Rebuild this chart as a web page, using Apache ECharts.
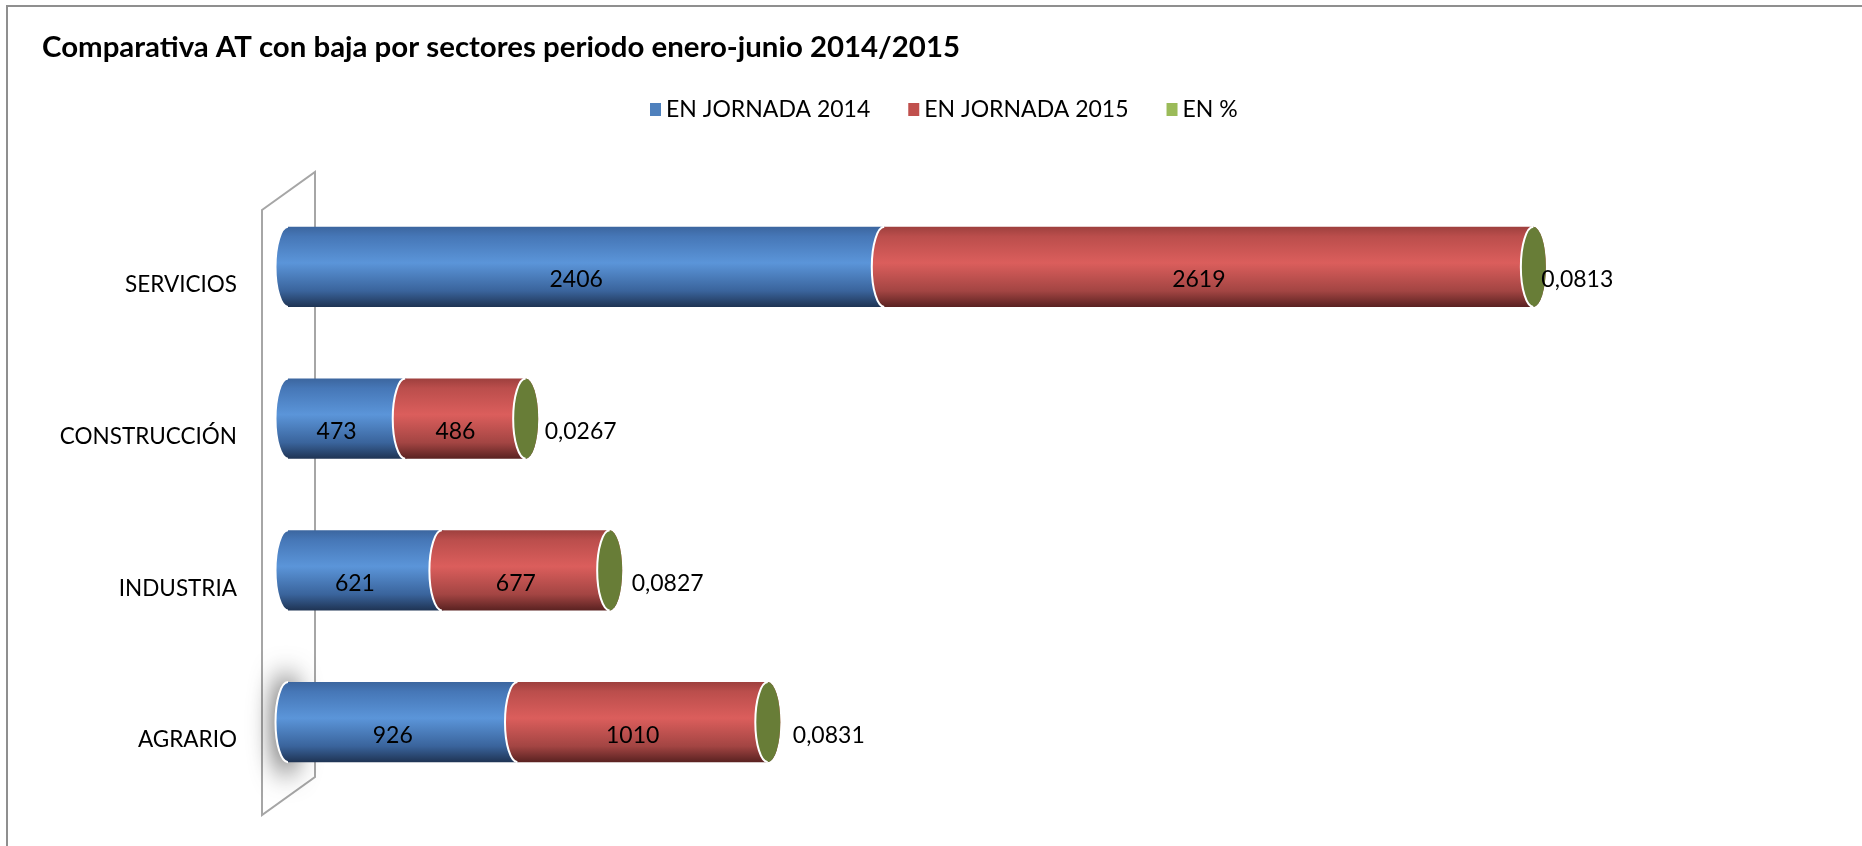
<!DOCTYPE html>
<html><head><meta charset="utf-8">
<script src="https://cdn.jsdelivr.net/npm/echarts@6/dist/echarts.min.js"></script>
<style>html,body{margin:0;padding:0;background:#fff}#c{width:1862px;height:846px}</style>
</head><body><div id="c"></div>
<script>
// ---- data ----
const categories = ['SERVICIOS', 'CONSTRUCCIÓN', 'INDUSTRIA', 'AGRARIO'];
const seriesNames = ['EN JORNADA 2014', 'EN JORNADA 2015', 'EN %'];
const jornada2014 = [2406, 473, 621, 926];
const jornada2015 = [2619, 486, 677, 1010];
const enPct = [0.0813, 0.0267, 0.0827, 0.0831];
const titleText = 'Comparativa AT con baja por sectores periodo enero-junio 2014/2015';
const xMax = 6000;

// ---- style / layout ----
const FONT = 'Lato';
const W = 1862, H = 846;
const GRID = { left: 288, right: 87, top: 191, bottom: 48 };
const LABEL_SHIFT = 18;
const BAR_RATIO = 80 / 151.7;
const RX = 12.5;
const LABEL_DY = 13;
const INNER_DX = -10;
const PCT_DX = [8, 19, 22, 25];
const FS = 23;
const CAT_FS = 22.5;

function fmt(v) { return String(v).replace('.', ','); }
const stacks = [jornada2014, jornada2015, enPct];
function segData(k) {
  return categories.map((c, i) => {
    let start = 0;
    for (let j = 0; j < k; j++) start += stacks[j][i];
    return [i, start, start + stacks[k][i], stacks[k][i]];
  });
}
function grad(stops) {
  return { type: 'linear', x: 0, y: 0, x2: 0, y2: 1, global: false,
    colorStops: stops.map(s => ({ offset: s[0], color: s[1] })) };
}
const blueFill = grad([[0, '#3c669f'], [0.12, '#4677b7'], [0.45, '#5b95d9'], [0.8, '#3a649c'], [1, '#1f3454']]);
const redFill = grad([[0, '#9e403e'], [0.12, '#bb4e4c'], [0.45, '#db5e5c'], [0.8, '#a34543'], [1, '#5a2221']]);
const capColor = '#687d37';

function bodyRenderer(fill) {
  return function (params, api) {
    const ci = api.value(0), a = api.value(1), b = api.value(2);
    const p0 = api.coord([a, ci]), p1 = api.coord([b, ci]);
    const ry = api.size([0, 1])[1] * BAR_RATIO / 2;
    const x0 = p0[0], x1 = p1[0], yc = p0[1], yt = yc - ry, yb = yc + ry;
    const d = `M${x0} ${yt} L${x1} ${yt} A${RX} ${ry} 0 0 1 ${x1} ${yb} L${x0} ${yb} A${RX} ${ry} 0 0 1 ${x0} ${yt} Z`;
    const edge = `M${x0} ${yb} A${RX} ${ry} 0 0 1 ${x0} ${yt}`;
    return { type: 'group', children: [
      { type: 'path', shape: { pathData: d }, style: { fill: fill } },
      { type: 'path', shape: { pathData: edge }, style: { fill: 'none', stroke: '#ffffff', lineWidth: 2 } },
      { type: 'text', x: (x0 + x1) / 2 + INNER_DX, y: yc + LABEL_DY,
        style: { text: fmt(api.value(3)), fill: '#000', fontFamily: FONT, fontSize: FS, align: 'center', verticalAlign: 'middle' } }
    ] };
  };
}
function capRenderer(params, api) {
  const ci = api.value(0), a = api.value(1);
  const p = api.coord([a, ci]);
  const ry = api.size([0, 1])[1] * BAR_RATIO / 2;
  const cx = p[0], cy = p[1];
  const d = `M${cx - RX} ${cy} A${RX} ${ry} 0 1 1 ${cx + RX} ${cy} A${RX} ${ry} 0 1 1 ${cx - RX} ${cy} Z`;
  const edge = `M${cx} ${cy + ry} A${RX} ${ry} 0 0 1 ${cx} ${cy - ry}`;
  return { type: 'group', children: [
    { type: 'path', shape: { pathData: d }, style: { fill: capColor } },
    { type: 'path', shape: { pathData: edge }, style: { fill: 'none', stroke: '#ffffff', lineWidth: 2 } },
    { type: 'text', x: cx + PCT_DX[ci], y: cy + LABEL_DY,
      style: { text: fmt(api.value(3)), fill: '#000', fontFamily: FONT, fontSize: FS, align: 'left', verticalAlign: 'middle' } }
  ] };
}

const chart = echarts.init(document.getElementById('c'), null, { renderer: 'canvas' });
const gridBottomPx = H - GRID.bottom;
const band = (gridBottomPx - GRID.top) / categories.length;
const wallL = GRID.left - 26, wallR = GRID.left + 27;
const agrY = GRID.top + band * 3.5;
const OFF = 2000;

chart.setOption({
  animation: false,
  backgroundColor: '#ffffff',
  title: { text: titleText, left: 37, top: 28,
    textStyle: { fontFamily: FONT, fontWeight: 'bold', fontSize: 29.4, color: '#000' } },
  legend: { data: seriesNames, left: 645, top: 93, icon: 'rect', itemWidth: 11, itemHeight: 13, itemGap: 38,
    selectedMode: false,
    textStyle: { fontFamily: FONT, fontSize: FS, color: '#000', padding: [0, 0, 0, 0] } },
  grid: [
    { left: GRID.left, right: GRID.right, top: GRID.top, bottom: GRID.bottom },
    { left: GRID.left, right: GRID.right, top: GRID.top + LABEL_SHIFT, bottom: GRID.bottom - LABEL_SHIFT }
  ],
  xAxis: [
    { gridIndex: 0, type: 'value', min: 0, max: xMax, show: false },
    { gridIndex: 1, type: 'value', min: 0, max: xMax, show: false }
  ],
  yAxis: [
    { gridIndex: 0, type: 'category', data: categories, inverse: true, show: false },
    { gridIndex: 1, type: 'category', data: categories, inverse: true,
      axisLine: { show: false }, axisTick: { show: false }, splitLine: { show: false },
      axisLabel: { margin: GRID.left - 237, fontFamily: FONT, fontSize: CAT_FS, color: '#000' } }
  ],
  graphic: [
    { type: 'polyline', shape: { points: [[7, H], [7, 6], [W, 6]] }, style: { stroke: '#8f8f8f', lineWidth: 2, fill: 'none' }, z: 0 },
    { type: 'polygon', shape: { points: [[wallL, GRID.top + 19], [wallR, GRID.top - 19], [wallR, gridBottomPx - 21], [wallL, gridBottomPx + 17]] },
      style: { fill: '#ffffff', stroke: '#a6a6a6', lineWidth: 2 }, z: 0 },
    { type: 'ellipse', shape: { cx: GRID.left - 2 - OFF, cy: agrY + 2, rx: 11, ry: 52 },
      style: { fill: '#000', shadowColor: 'rgba(0,0,0,0.75)', shadowBlur: 26, shadowOffsetX: OFF, shadowOffsetY: 0 }, z: 0 }
  ],
  series: [
    { name: seriesNames[0], type: 'custom', xAxisIndex: 0, yAxisIndex: 0, itemStyle: { color: '#4F81BD' },
      encode: { x: [1, 2], y: 0 }, data: segData(0), renderItem: bodyRenderer(blueFill), z: 3 },
    { name: seriesNames[1], type: 'custom', xAxisIndex: 0, yAxisIndex: 0, itemStyle: { color: '#C0504D' },
      encode: { x: [1, 2], y: 0 }, data: segData(1), renderItem: bodyRenderer(redFill), z: 4 },
    { name: seriesNames[2], type: 'custom', xAxisIndex: 0, yAxisIndex: 0, itemStyle: { color: '#9BBB59' },
      encode: { x: [1, 2], y: 0 }, data: segData(2), renderItem: capRenderer, z: 5 }
  ]
});
</script></body></html>
